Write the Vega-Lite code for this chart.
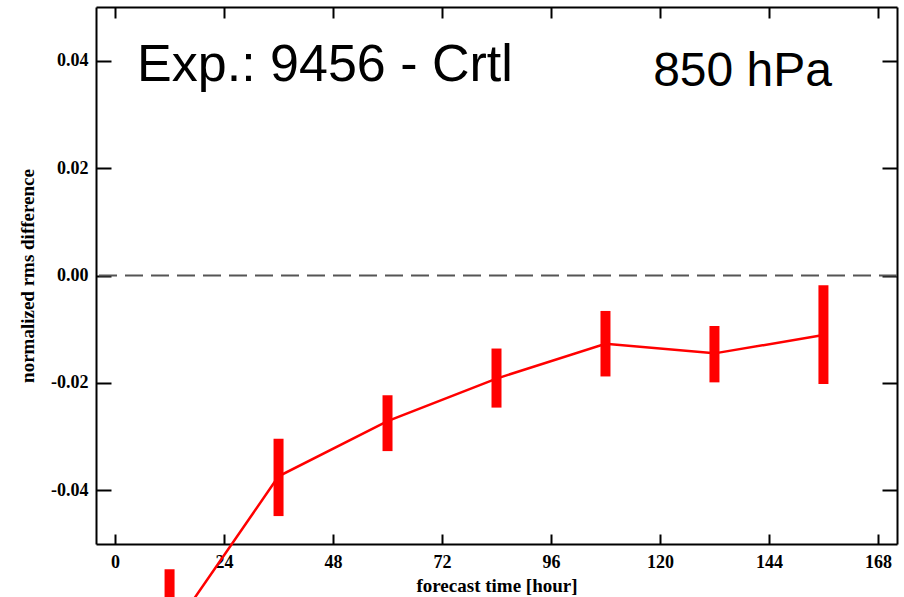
{
  "$schema": "https://vega.github.io/schema/vega-lite/v6.json",
  "width": 801,
  "height": 537,
  "autosize": {"type": "none"},
  "padding": {"left": 96, "top": 7, "right": 7, "bottom": 53},
  "background": "white",
  "config": {"view": {"stroke": null}},
  "datasets": {
    "series": [
      {"hour": 12, "value": -0.0668, "lo": -0.075, "hi": -0.0547},
      {"hour": 36, "value": -0.0374, "lo": -0.0448, "hi": -0.0304},
      {"hour": 60, "value": -0.0271, "lo": -0.0327, "hi": -0.0223},
      {"hour": 84, "value": -0.0192, "lo": -0.0246, "hi": -0.0136},
      {"hour": 108, "value": -0.0127, "lo": -0.0188, "hi": -0.0066},
      {"hour": 132, "value": -0.0145, "lo": -0.0199, "hi": -0.0094},
      {"hour": 156, "value": -0.0111, "lo": -0.0202, "hi": -0.0018}
    ]
  },
  "resolve": {"axis": {"x": "independent", "y": "independent"}},
  "layer": [
    {
      "data": {"values": [{"v": 0}]},
      "mark": {"type": "rule", "stroke": "#555555", "strokeWidth": 2, "strokeDash": [18, 8]},
      "encoding": {
        "y": {"field": "v", "type": "quantitative", "scale": {"domain": [-0.05, 0.05], "nice": false, "zero": false}, "axis": null}
      }
    },
    {
      "data": {"name": "series"},
      "mark": {"type": "line", "color": "#ff0000", "strokeWidth": 2.5, "clip": false},
      "encoding": {
        "x": {
          "field": "hour", "type": "quantitative",
          "scale": {"domain": [-4.2, 172.2], "nice": false, "zero": false},
          "axis": {
            "orient": "bottom", "values": [0, 24, 48, 72, 96, 120, 144, 168],
            "tickSize": -10, "tickWidth": 2, "tickColor": "black",
            "domainColor": "black", "domainWidth": 2, "grid": false,
            "labelFont": "Liberation Serif", "labelFontWeight": "bold", "labelFontSize": 18, "labelColor": "black",
            "labelPadding": 19, "labelFlush": false, "labelOverlap": false,
            "title": "forecast time [hour]", "titleFont": "Liberation Serif", "titleFontWeight": "bold",
            "titleFontSize": 19, "titleColor": "black", "titlePadding": 5
          }
        },
        "y": {
          "field": "value", "type": "quantitative",
          "scale": {"domain": [-0.05, 0.05], "nice": false, "zero": false},
          "axis": {
            "orient": "left", "values": [-0.04, -0.02, 0, 0.02, 0.04], "format": ".2f",
            "labelExpr": "replace(datum.label, '\u2212', '-')",
            "tickSize": -15, "tickWidth": 2, "tickColor": "black",
            "domainColor": "black", "domainWidth": 2, "grid": false,
            "labelFont": "Liberation Serif", "labelFontWeight": "bold", "labelFontSize": 18, "labelColor": "black",
            "labelPadding": 23, "labelFlush": false, "labelOverlap": false,
            "title": "normalized rms difference", "titleFont": "Liberation Serif", "titleFontWeight": "bold",
            "titleFontSize": 19, "titleColor": "black", "titlePadding": 13
          }
        }
      }
    },
    {
      "data": {"name": "series"},
      "mark": {"type": "rule", "color": "#ff0000", "strokeWidth": 10, "strokeCap": "butt", "clip": false},
      "encoding": {
        "x": {
          "field": "hour", "type": "quantitative",
          "scale": {"domain": [-4.2, 172.2], "nice": false, "zero": false},
          "axis": {
            "orient": "top", "values": [0, 24, 48, 72, 96, 120, 144, 168], "labels": false, "title": null,
            "tickSize": -11, "tickWidth": 2, "tickColor": "black",
            "domainColor": "black", "domainWidth": 2, "grid": false
          }
        },
        "y": {
          "field": "lo", "type": "quantitative",
          "scale": {"domain": [-0.05, 0.05], "nice": false, "zero": false},
          "axis": {
            "orient": "right", "values": [-0.04, -0.02, 0, 0.02, 0.04], "labels": false, "title": null,
            "tickSize": -15, "tickWidth": 2, "tickColor": "black",
            "domainColor": "black", "domainWidth": 2, "grid": false
          }
        },
        "y2": {"field": "hi"}
      }
    },
    {
      "data": {"values": [{"label": "Exp.: 9456 - Crtl"}]},
      "mark": {"type": "text", "font": "Liberation Sans", "fontSize": 52, "color": "black", "align": "left", "baseline": "alphabetic"},
      "encoding": {
        "x": {"datum": 4.85, "type": "quantitative", "axis": null},
        "y": {"datum": 0.0363, "type": "quantitative", "axis": null},
        "text": {"field": "label"}
      }
    },
    {
      "data": {"values": [{"label": "850 hPa"}]},
      "mark": {"type": "text", "font": "Liberation Sans", "fontSize": 48, "color": "black", "align": "left", "baseline": "alphabetic"},
      "encoding": {
        "x": {"datum": 118.5, "type": "quantitative", "axis": null},
        "y": {"datum": 0.0352, "type": "quantitative", "axis": null},
        "text": {"field": "label"}
      }
    }
  ]
}
